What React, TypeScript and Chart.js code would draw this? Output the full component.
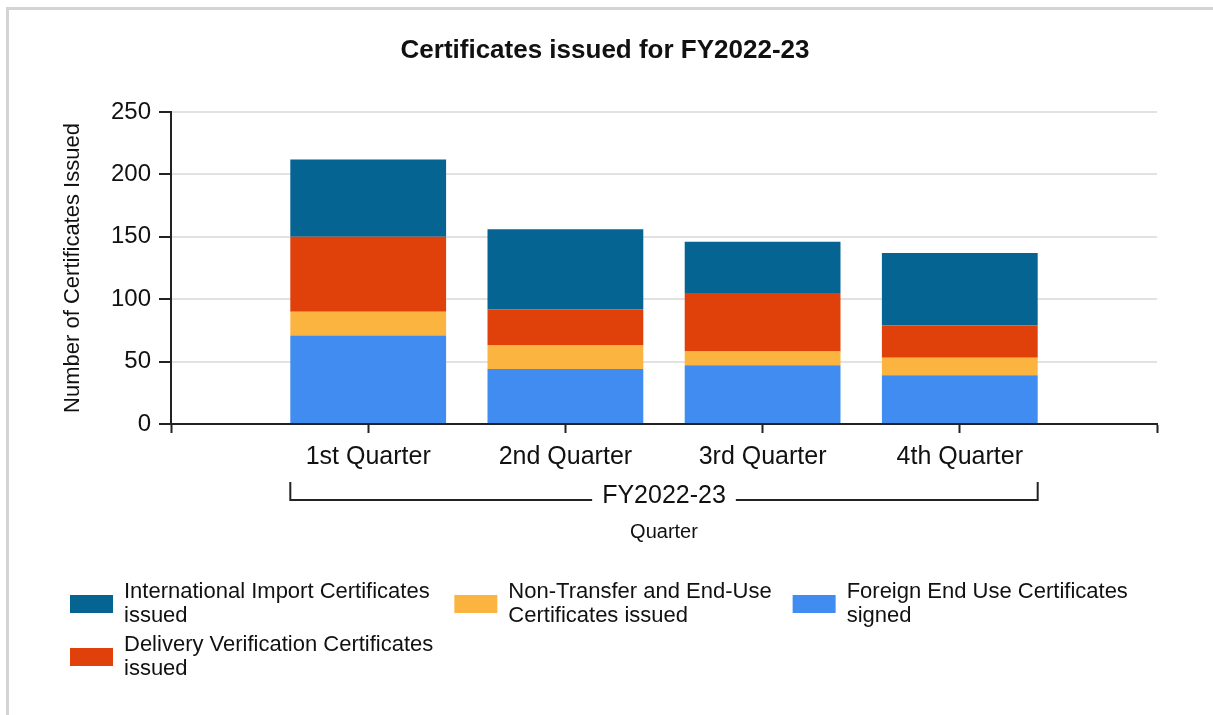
import React, { useEffect, useRef } from 'react';
import { Chart, registerables } from 'chart.js';

Chart.register(...registerables);

const chartTitle = 'Certificates issued for FY2022-23';
const categories = ['1st Quarter', '2nd Quarter', '3rd Quarter', '4th Quarter'];
const groupLabel = 'FY2022-23';
const xAxisTitle = 'Quarter';
const yAxisTitle = 'Number of Certificates Issued';
const yTicks = [0, 50, 100, 150, 200, 250];

// stacked bottom to top
const foreignEndUse = [71, 44, 47, 39];
const nonTransfer = [19, 19, 11, 14];
const deliveryVerification = [60, 29, 47, 26];
const internationalImport = [62, 64, 41, 58];

const seriesLabels = [
  'Foreign End Use Certificates signed',
  'Non-Transfer and End-Use Certificates issued',
  'Delivery Verification Certificates issued',
  'International Import Certificates issued',
];
const seriesColors = ['#418CF0', '#FCB441', '#E0400A', '#056492'];
const seriesValues = [foreignEndUse, nonTransfer, deliveryVerification, internationalImport];
// legend reading order (row-major, 3 columns)
const legendOrder = [3, 1, 0, 2];

const FONT = '"Liberation Sans", Arial, sans-serif';

const pad = (arr: number[]) => [null, ...arr, null];

const titlePlugin = {
  id: 'pageTitle',
  afterDraw(chart: any) {
    const ctx = chart.ctx;
    ctx.save();
    ctx.font = `bold 26px ${FONT}`;
    ctx.fillStyle = '#111';
    ctx.textAlign = 'center';
    ctx.textBaseline = 'middle';
    ctx.fillText(chartTitle, 605, 51);
    ctx.restore();
  },
};

const bracketPlugin = {
  id: 'groupBracket',
  afterDraw(chart: any) {
    const meta = chart.getDatasetMeta(0);
    const first = meta.data[1];
    const last = meta.data[categories.length];
    if (!first || !last) return;
    const left = first.x - first.width / 2;
    const right = last.x + last.width / 2;
    const ctx = chart.ctx;
    ctx.save();
    ctx.strokeStyle = '#222';
    ctx.lineWidth = 2;
    ctx.font = `25px ${FONT}`;
    const mid = (left + right) / 2;
    const tw = ctx.measureText(groupLabel).width;
    const yLine = 500;
    const yTop = 482;
    ctx.beginPath();
    ctx.moveTo(left, yTop);
    ctx.lineTo(left, yLine);
    ctx.lineTo(mid - tw / 2 - 10, yLine);
    ctx.moveTo(mid + tw / 2 + 10, yLine);
    ctx.lineTo(right, yLine);
    ctx.lineTo(right, yTop);
    ctx.stroke();
    ctx.fillStyle = '#111';
    ctx.textAlign = 'center';
    ctx.textBaseline = 'middle';
    ctx.fillText(groupLabel, mid, 496);
    ctx.restore();
  },
};

const legendPlugin = {
  id: 'gridLegend',
  afterDraw(chart: any) {
    const ctx = chart.ctx;
    ctx.save();
    ctx.font = `22px ${FONT}`;
    const maxW = 325;
    const wrap = (text: string) => {
      const words = text.split(' ');
      const lines: string[] = [];
      let cur = '';
      for (const w of words) {
        const t = cur ? cur + ' ' + w : w;
        if (ctx.measureText(t).width > maxW && cur) {
          lines.push(cur);
          cur = w;
        } else cur = t;
      }
      if (cur) lines.push(cur);
      return lines;
    };
    const ds = chart.data.datasets;
    const items = legendOrder.map((i) => ({
      lines: wrap(ds[i].label as string),
      color: ds[i].backgroundColor as string,
    }));
    const cols = 3;
    const lineH = 24;
    const rowPitch = 53;
    const firstLineY = 592;
    const swW = 43;
    const swH = 18;
    const textOff = 54;
    const gap = 21;
    let colX = 70;
    for (let c = 0; c < cols; c++) {
      let maxText = 0;
      for (let r = 0; r * cols + c < items.length; r++) {
        const it = items[r * cols + c];
        const y0 = firstLineY + r * rowPitch;
        const center = y0 + ((it.lines.length - 1) * lineH) / 2;
        ctx.fillStyle = it.color;
        ctx.fillRect(colX, center - swH / 2, swW, swH);
        ctx.fillStyle = '#111';
        ctx.textAlign = 'left';
        ctx.textBaseline = 'middle';
        it.lines.forEach((ln, i) => {
          ctx.fillText(ln, colX + textOff, y0 + i * lineH);
          maxText = Math.max(maxText, ctx.measureText(ln).width);
        });
      }
      colX = colX + textOff + maxText + gap;
    }
    ctx.restore();
  },
};

export default function App() {
  const ref = useRef<HTMLCanvasElement>(null);

  useEffect(() => {
    if (!ref.current) return;
    const chart = new Chart(ref.current, {
      type: 'bar',
      data: {
        labels: ['', ...categories, ''],
        datasets: seriesValues.map((vals, i) => ({
          label: seriesLabels[i],
          data: pad(vals),
          backgroundColor: seriesColors[i],
          borderWidth: 0,
          barPercentage: 1,
          categoryPercentage: 0.79,
        })),
      },
      options: {
        animation: false,
        responsive: false,
        devicePixelRatio: 1,
        layout: { padding: { left: 0, right: 56, top: 112, bottom: 0 } },
        plugins: {
          legend: { display: false },
          tooltip: { enabled: false },
          title: { display: false },
        },
        scales: {
          x: {
            stacked: true,
            offset: false,
            afterFit: (s: any) => {
              s.height = 291;
            },
            grid: {
              display: true,
              drawOnChartArea: false,
              drawTicks: true,
              tickLength: 9,
              tickColor: '#222',
              tickWidth: 2,
              offset: false,
            },
            border: { display: true, color: '#222', width: 2 },
            ticks: {
              color: '#111',
              font: { family: FONT, size: 25 },
              padding: 9,
              maxRotation: 0,
              autoSkip: false,
            },
            title: {
              display: true,
              text: xAxisTitle,
              color: '#111',
              font: { family: FONT, size: 20 },
              padding: { top: 0, bottom: 171 },
            },
          },
          y: {
            stacked: true,
            min: 0,
            max: 250,
            afterFit: (s: any) => {
              s.width = 171;
            },
            afterBuildTicks: (s: any) => {
              s.ticks = yTicks.map((v) => ({ value: v }));
            },
            grid: {
              color: '#e2e2e2',
              lineWidth: 2,
              tickColor: '#222',
              tickWidth: 2,
              tickLength: 12,
            },
            border: { display: true, color: '#222', width: 2 },
            ticks: {
              color: '#111',
              font: { family: FONT, size: 24 },
              padding: 8,
            },
            title: {
              display: true,
              text: yAxisTitle,
              color: '#111',
              font: { family: FONT, size: 22 },
              padding: { top: 60, bottom: 0 },
            },
          },
        },
      },
      plugins: [titlePlugin, bracketPlugin, legendPlugin],
    } as any);
    return () => chart.destroy();
  }, []);

  return (
    <div
      style={{
        position: 'fixed',
        left: 0,
        top: 0,
        width: 1213,
        height: 715,
        background: '#fff',
        overflow: 'hidden',
      }}
    >
      <div
        style={{
          position: 'absolute',
          left: 6,
          top: 7,
          right: 0,
          bottom: -10,
          borderTop: '3px solid #d4d4d4',
          borderLeft: '3px solid #d4d4d4',
        }}
      />
      <canvas
        ref={ref}
        width={1213}
        height={715}
        style={{ position: 'absolute', left: 0, top: 0, width: 1213, height: 715 }}
      />
    </div>
  );
}
